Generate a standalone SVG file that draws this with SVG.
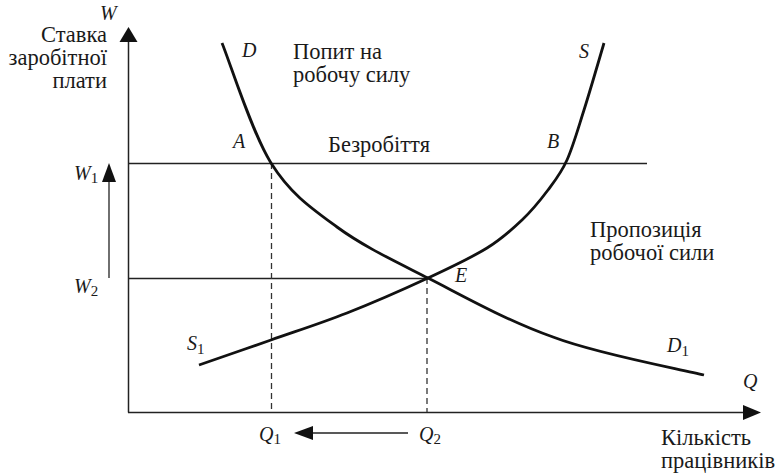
<svg xmlns="http://www.w3.org/2000/svg" width="778" height="475" viewBox="0 0 778 475">
<style>
  .t { font-size: 22.5px; }
  .i { font-size: 20px; font-style: italic; }
  .sub { font-size: 15px; font-style: normal; }
  .axis { stroke: #222; stroke-width: 1.5; fill: none; }
  .thin { stroke: #222; stroke-width: 1.3; fill: none; }
  .dash { stroke: #333; stroke-width: 1.3; stroke-dasharray: 6 4; fill: none; }
  .curve { stroke: #111; stroke-width: 2.8; fill: none; stroke-linecap: butt; }
  .head { fill: #111; }
</style>
<rect width="778" height="475" fill="#ffffff"/>

<g id="connectors">
  <line class="axis" x1="128.5" y1="412.5" x2="128.5" y2="40"/>
  <polygon class="head" points="128.5,27 119.5,42 137.5,42"/>
  <line class="axis" x1="128" y1="412.5" x2="745" y2="412.5"/>
  <polygon class="head" points="761,412.5 743,405 743,420"/>
  <line class="thin" x1="128" y1="163.5" x2="647" y2="163.5"/>
  <line class="thin" x1="128" y1="278.5" x2="428" y2="278.5"/>
  <line class="dash" x1="271.5" y1="163" x2="271.5" y2="412"/>
  <line class="dash" x1="427" y1="278" x2="427" y2="412"/>
  <line class="thin" x1="109" y1="278" x2="109" y2="178"/>
  <polygon class="head" points="109,163 102,182 116,182"/>
  <line class="thin" x1="408" y1="433" x2="308" y2="433"/>
  <polygon class="head" points="294,433 313,426 313,440"/>
</g>

<g id="demand-curve">
  <path class="curve" d="M222,43 C230.2,63 251.8,132.3 271,163 C290.2,193.7 310.8,207.8 337,227 C363.2,246.2 392,259.7 428,278 C464,296.3 507,320.8 553,337 C599,354.5 678.8,368.7 704,375"/>
</g>

<g id="supply-curve">
  <path class="curve" d="M199,365 C211,360.8 246.3,348.7 271,340 C295.7,331.3 320.8,323.3 347,313 C373.2,302.7 404.7,288.8 428,278 C451.3,267.2 471.3,257.7 487,248 C502.7,238.3 511.8,229.7 522,220 C532.2,210.3 540.5,200 548,190 C555.5,180 561,173.3 567,160 C573,146.7 577.8,129.5 584,110 C590.2,90.5 600.7,54.2 604,43"/>
</g>

<g style="font-family: 'Liberation Serif', 'DejaVu Serif', serif" fill="#1a1a1a">
<g id="y-axis-labels">
  <text class="i" x="100" y="20">W</text>
  <text class="t" x="107" y="42" text-anchor="end">Ставка</text>
  <text class="t" x="107" y="65" text-anchor="end">заробітної</text>
  <text class="t" x="107" y="88" text-anchor="end">плати</text>
  <text class="i" x="74" y="180">W<tspan class="sub" dy="3">1</tspan></text>
  <text class="i" x="74" y="293">W<tspan class="sub" dy="3">2</tspan></text>
</g>

<g id="curve-labels">
  <text class="i" x="242" y="57">D</text>
  <text class="t" x="293" y="59">Попит на</text>
  <text class="t" x="293" y="82">робочу силу</text>
  <text class="i" x="579" y="58">S</text>
  <text class="i" x="233" y="148">A</text>
  <text class="t" x="328" y="152">Безробіття</text>
  <text class="i" x="547" y="148">B</text>
  <text class="t" x="590" y="237">Пропозиція</text>
  <text class="t" x="590" y="260">робочої сили</text>
  <text class="i" x="455" y="282">E</text>
  <text class="i" x="187" y="350">S<tspan class="sub" dy="4">1</tspan></text>
  <text class="i" x="667" y="352">D<tspan class="sub" dy="4">1</tspan></text>
</g>

<g id="x-axis-labels">
  <text class="i" x="743" y="388">Q</text>
  <text class="i" x="259" y="441">Q<tspan class="sub" dy="3">1</tspan></text>
  <text class="i" x="419" y="441">Q<tspan class="sub" dy="3">2</tspan></text>
  <text class="t" x="661" y="445">Кількість</text>
  <text class="t" x="661" y="468">працівників</text>
</g>
</g>
</svg>
